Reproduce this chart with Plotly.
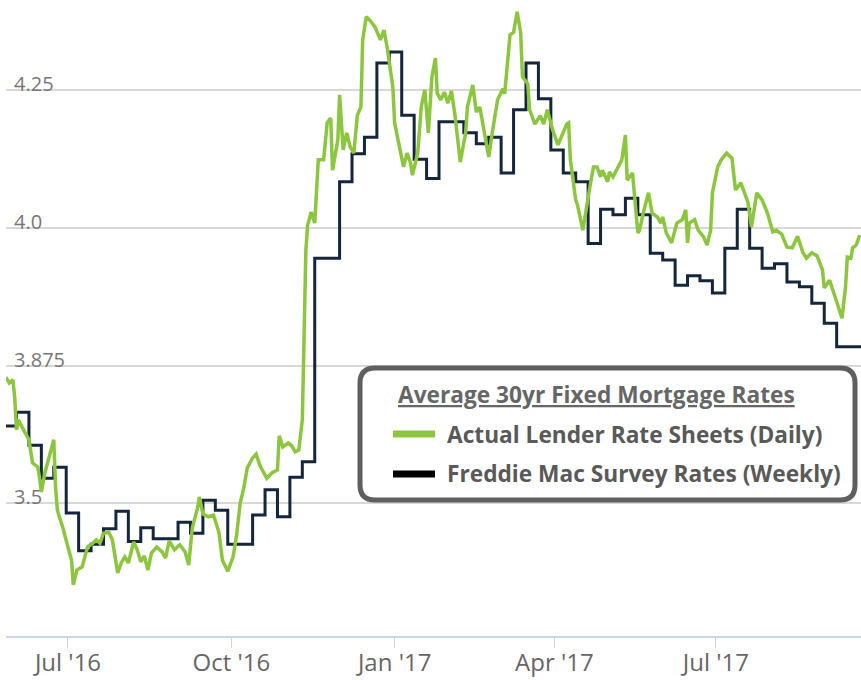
import plotly.graph_objects as go

# ---------------- data ----------------
weekly_dates = [
    "2016-05-26", "2016-06-02", "2016-06-09", "2016-06-16", "2016-06-23", "2016-06-30",
    "2016-07-07", "2016-07-14", "2016-07-21", "2016-07-28", "2016-08-04", "2016-08-11",
    "2016-08-18", "2016-08-25", "2016-09-01", "2016-09-08", "2016-09-15", "2016-09-22",
    "2016-09-29", "2016-10-06", "2016-10-13", "2016-10-20", "2016-10-27", "2016-11-03",
    "2016-11-10", "2016-11-17", "2016-11-23", "2016-12-01", "2016-12-08", "2016-12-15",
    "2016-12-22", "2016-12-29", "2017-01-05", "2017-01-12", "2017-01-19", "2017-01-26",
    "2017-02-02", "2017-02-09", "2017-02-16", "2017-02-23", "2017-03-02", "2017-03-09",
    "2017-03-16", "2017-03-23", "2017-03-30", "2017-04-06", "2017-04-13", "2017-04-20",
    "2017-04-27", "2017-05-04", "2017-05-11", "2017-05-18", "2017-05-25", "2017-06-01",
    "2017-06-08", "2017-06-15", "2017-06-22", "2017-06-29", "2017-07-06", "2017-07-13",
    "2017-07-20", "2017-07-27", "2017-08-03", "2017-08-10", "2017-08-17", "2017-08-24",
    "2017-08-31", "2017-09-07", "2017-09-14", "2017-09-21",
]
weekly_rates = [
    3.64, 3.665, 3.605, 3.545, 3.565, 3.482,
    3.413, 3.425, 3.453, 3.485, 3.43, 3.455,
    3.435, 3.435, 3.465, 3.445, 3.505, 3.487,
    3.425, 3.425, 3.478, 3.524, 3.475, 3.547,
    3.575, 3.945, 3.945, 4.084, 4.135, 4.165,
    4.30, 4.32, 4.205, 4.125, 4.09, 4.193,
    4.193, 4.173, 4.153, 4.165, 4.10, 4.215,
    4.30, 4.235, 4.142, 4.10, 4.084, 3.972,
    4.034, 4.024, 4.054, 4.024, 3.954, 3.942,
    3.896, 3.913, 3.904, 3.882, 3.963, 4.034,
    3.963, 3.927, 3.935, 3.902, 3.893, 3.863,
    3.827, 3.784, 3.784, 3.784,
]

daily_dates = [
    "2016-05-27", "2016-05-29", "2016-05-31", "2016-06-01", "2016-06-02", "2016-06-03",
    "2016-06-06", "2016-06-09", "2016-06-11", "2016-06-14", "2016-06-15", "2016-06-16",
    "2016-06-18", "2016-06-21", "2016-06-23", "2016-06-24", "2016-06-25", "2016-06-28",
    "2016-06-30", "2016-07-03", "2016-07-04", "2016-07-06", "2016-07-09", "2016-07-11",
    "2016-07-12", "2016-07-15", "2016-07-17", "2016-07-19", "2016-07-21", "2016-07-24",
    "2016-07-26", "2016-07-29", "2016-07-31", "2016-08-02", "2016-08-04", "2016-08-07",
    "2016-08-09", "2016-08-11", "2016-08-13", "2016-08-15", "2016-08-17", "2016-08-20",
    "2016-08-23", "2016-08-25", "2016-08-27", "2016-08-30", "2016-09-02", "2016-09-05",
    "2016-09-07", "2016-09-09", "2016-09-12", "2016-09-13", "2016-09-15", "2016-09-18",
    "2016-09-21", "2016-09-24", "2016-09-26", "2016-09-29", "2016-09-30", "2016-10-02",
    "2016-10-04", "2016-10-06", "2016-10-08", "2016-10-10", "2016-10-13", "2016-10-15",
    "2016-10-17", "2016-10-21", "2016-10-24", "2016-10-27", "2016-10-28", "2016-10-30",
    "2016-11-02", "2016-11-04", "2016-11-06", "2016-11-08", "2016-11-10", "2016-11-11",
    "2016-11-12", "2016-11-13", "2016-11-15", "2016-11-17", "2016-11-19", "2016-11-22",
    "2016-11-24", "2016-11-26", "2016-11-27", "2016-11-30", "2016-12-01", "2016-12-03",
    "2016-12-05", "2016-12-07", "2016-12-09", "2016-12-11", "2016-12-13", "2016-12-14",
    "2016-12-16", "2016-12-18", "2016-12-21", "2016-12-24", "2016-12-26", "2016-12-28",
    "2016-12-31", "2017-01-01", "2017-01-04", "2017-01-06", "2017-01-08", "2017-01-10",
    "2017-01-11", "2017-01-13", "2017-01-14", "2017-01-16", "2017-01-18", "2017-01-20",
    "2017-01-22", "2017-01-24", "2017-01-25", "2017-01-27", "2017-01-29", "2017-01-31",
    "2017-02-02", "2017-02-04", "2017-02-07", "2017-02-10", "2017-02-11", "2017-02-14",
    "2017-02-16", "2017-02-18", "2017-02-20", "2017-02-23", "2017-02-25", "2017-02-28",
    "2017-03-03", "2017-03-04", "2017-03-07", "2017-03-09", "2017-03-11", "2017-03-13",
    "2017-03-14", "2017-03-17", "2017-03-18", "2017-03-21", "2017-03-24", "2017-03-26",
    "2017-03-28", "2017-03-31", "2017-04-03", "2017-04-05", "2017-04-08", "2017-04-09",
    "2017-04-10", "2017-04-13", "2017-04-14", "2017-04-17", "2017-04-19", "2017-04-21",
    "2017-04-23", "2017-04-25", "2017-04-27", "2017-04-28", "2017-05-01", "2017-05-02",
    "2017-05-04", "2017-05-06", "2017-05-09", "2017-05-11", "2017-05-12", "2017-05-15",
    "2017-05-16", "2017-05-18", "2017-05-19", "2017-05-21", "2017-05-24", "2017-05-26",
    "2017-05-29", "2017-05-31", "2017-06-01", "2017-06-03", "2017-06-06", "2017-06-09",
    "2017-06-12", "2017-06-14", "2017-06-15", "2017-06-16", "2017-06-19", "2017-06-21",
    "2017-06-24", "2017-06-26", "2017-06-28", "2017-06-29", "2017-07-02", "2017-07-04",
    "2017-07-07", "2017-07-10", "2017-07-12", "2017-07-15", "2017-07-19", "2017-07-21",
    "2017-07-24", "2017-07-27", "2017-07-30", "2017-08-02", "2017-08-04", "2017-08-07",
    "2017-08-10", "2017-08-13", "2017-08-16", "2017-08-19", "2017-08-21", "2017-08-24",
    "2017-08-27", "2017-08-30", "2017-08-31", "2017-09-03", "2017-09-06", "2017-09-10",
    "2017-09-12", "2017-09-13", "2017-09-15", "2017-09-16", "2017-09-18", "2017-09-20",
]
daily_rates = [
    3.729, 3.718, 3.724, 3.691, 3.633, 3.651,
    3.633, 3.615, 3.573, 3.565, 3.545, 3.520,
    3.555, 3.591, 3.615, 3.529, 3.487, 3.456,
    3.433, 3.396, 3.351, 3.378, 3.384, 3.409,
    3.420, 3.427, 3.433, 3.427, 3.445, 3.447,
    3.433, 3.373, 3.391, 3.402, 3.391, 3.429,
    3.415, 3.393, 3.404, 3.378, 3.409, 3.420,
    3.411, 3.400, 3.431, 3.415, 3.424, 3.411,
    3.387, 3.455, 3.491, 3.511, 3.480, 3.475,
    3.478, 3.447, 3.396, 3.376, 3.384, 3.402,
    3.442, 3.500, 3.527, 3.564, 3.582, 3.589,
    3.569, 3.545, 3.555, 3.560, 3.622, 3.602,
    3.609, 3.604, 3.593, 3.596, 3.651, 3.815,
    3.960, 4.005, 4.029, 4.009, 4.124, 4.124,
    4.191, 4.200, 4.105, 4.160, 4.242, 4.142,
    4.173, 4.147, 4.136, 4.205, 4.220, 4.342,
    4.384, 4.378, 4.365, 4.342, 4.360, 4.324,
    4.256, 4.191, 4.147, 4.111, 4.136, 4.118,
    4.096, 4.124, 4.136, 4.220, 4.251, 4.173,
    4.275, 4.309, 4.245, 4.233, 4.247, 4.227,
    4.249, 4.205, 4.120, 4.173, 4.220, 4.260,
    4.211, 4.220, 4.184, 4.129, 4.173, 4.233,
    4.253, 4.244, 4.351, 4.356, 4.393, 4.355,
    4.275, 4.262, 4.215, 4.189, 4.204, 4.189,
    4.215, 4.178, 4.151, 4.165, 4.189, 4.191,
    4.124, 4.051, 4.042, 3.996, 4.038, 4.075,
    4.111, 4.111, 4.093, 4.105, 4.084, 4.102,
    4.093, 4.105, 4.124, 4.169, 4.087, 4.100,
    4.064, 3.991, 3.996, 4.027, 4.064, 4.027,
    4.020, 4.009, 4.020, 3.991, 3.973, 4.009,
    4.015, 4.033, 3.973, 4.009, 4.015, 3.996,
    3.984, 3.969, 3.996, 4.064, 4.111, 4.124,
    4.136, 4.127, 4.069, 4.082, 4.047, 4.002,
    4.064, 4.051, 4.027, 3.993, 3.996, 3.989,
    3.965, 3.964, 3.985, 3.955, 3.945, 3.955,
    3.949, 3.924, 3.891, 3.905, 3.876, 3.836,
    3.893, 3.947, 3.945, 3.964, 3.969, 3.987,
]

y_tickvals = [3.5, 3.75, 4.0, 4.25]
y_ticktext = ["3.5", "3.875", "4.0", "4.25"]
x_tickvals = ["2016-07-01", "2016-10-01", "2017-01-01", "2017-04-01", "2017-07-01"]
x_ticktext = ["Jul '16", "Oct '16", "Jan '17", "Apr '17", "Jul '17"]

legend_title = "Average 30yr Fixed Mortgage Rates"
name_daily = "Actual Lender Rate Sheets (Daily)"
name_weekly = "Freddie Mac Survey Rates (Weekly)"

GREEN = "#8cc63f"
NAVY = "#14263b"

# ---------------- figure ----------------
W, H = 861, 680
ML, MR, MT, MB = 6, 0, 0, 44

fig = go.Figure()
fig.add_trace(go.Scatter(
    x=weekly_dates, y=weekly_rates, mode="lines", name=name_weekly,
    line=dict(color=NAVY, width=3, shape="hv"), hoverinfo="skip"))
fig.add_trace(go.Scatter(
    x=daily_dates, y=daily_rates, mode="lines", name=name_daily,
    line=dict(color=GREEN, width=3.5), hoverinfo="skip"))

# pixel -> paper helpers for the legend box
pw, ph = W - ML - MR, H - MT - MB
def px(v):
    return (v - ML) / pw
def py(v):
    return (H - MB - v) / ph

# rounded legend frame
x0, x1, yt, yb, r = px(360), px(855), py(368), py(500), 15
rx, ry = r / pw, r / ph
path = (f"M {x0+rx},{yt} L {x1-rx},{yt} Q {x1},{yt} {x1},{yt-ry} "
        f"L {x1},{yb+ry} Q {x1},{yb} {x1-rx},{yb} L {x0+rx},{yb} "
        f"Q {x0},{yb} {x0},{yb+ry} L {x0},{yt-ry} Q {x0},{yt} {x0+rx},{yt} Z")
fig.add_shape(type="path", path=path, xref="paper", yref="paper",
              line=dict(color="#5f5f5f", width=5), fillcolor="white", layer="above")

# legend swatches
for yy, col in ((434, GREEN), (474, "#000000")):
    fig.add_shape(type="line", xref="paper", yref="paper",
                  x0=px(393), x1=px(435), y0=py(yy), y1=py(yy),
                  line=dict(color=col, width=7), layer="above")

# legend texts
fig.add_annotation(text=legend_title, xref="paper", yref="paper",
                   x=px(596), y=py(394), xanchor="center", yanchor="middle", showarrow=False,
                   font=dict(family="Open Sans", size=22.7, color="#666666", weight=700,
                             lineposition="under"))
for yy, label in ((434, name_daily), (474, name_weekly)):
    fig.add_annotation(text=label, xref="paper", yref="paper",
                       x=px(445), y=py(yy), xanchor="left", yanchor="middle", showarrow=False,
                       font=dict(family="Open Sans", size=22.7, color="#595959", weight=700))

fig.update_layout(
    width=W, height=H,
    margin=dict(l=ML, r=MR, t=MT, b=MB),
    paper_bgcolor="white", plot_bgcolor="white",
    font=dict(family="Open Sans", color="#666666"),
    hovermode=False,
    showlegend=False,
    xaxis=dict(
        type="date", range=["2016-05-27 02:00", "2017-09-20 17:00"],
        tickmode="array", tickvals=x_tickvals, ticktext=x_ticktext,
        ticks="outside", ticklen=10, tickwidth=1, tickcolor="#ccd6eb",
        showline=True, linecolor="#ccd6eb", linewidth=2,
        showgrid=False, zeroline=False, tickangle=0,
        ticklabelstandoff=-6,
        tickfont=dict(family="Open Sans", size=24, color="#666666"),
    ),
    yaxis=dict(
        range=[3.2582, 4.4145],
        tickmode="array", tickvals=y_tickvals, ticktext=y_ticktext,
        showgrid=True, gridcolor="#d8d8d8", gridwidth=2,
        ticks="", showline=False, zeroline=False,
        ticklabelposition="inside top", layer="below traces",
        ticklabelstandoff=5, ticklabelshift=8,
        tickfont=dict(family="Open Sans", size=20, color="#777777"),
    ),
)

fig.write_html("out.html", config={"displayModeBar": False},
               post_script="document.body.style.margin='0';document.body.style.padding='0';")
